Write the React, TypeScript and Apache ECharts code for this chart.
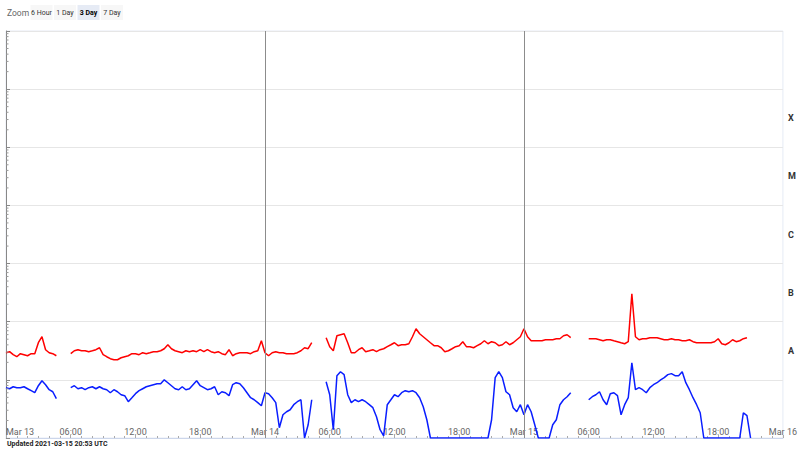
import React, { useEffect, useRef } from 'react';
import * as echarts from 'echarts';

// ---- Data (GOES X-ray flux, W/m²) ----
const START = Date.UTC(2021, 2, 13, 0, 0, 0);
const END = Date.UTC(2021, 2, 16, 0, 0, 0);
const STEP_MINUTES = 20;
const MONTHS = ['Jan', 'Feb', 'Mar', 'Apr', 'May', 'Jun', 'Jul', 'Aug', 'Sep', 'Oct', 'Nov', 'Dec'];
const CLASS_LABELS = ['', 'A', 'B', 'C', 'M', 'X', ''];
const ZOOM_BUTTONS = ['6 Hour', '1 Day', '3 Day', '7 Day'];
const SELECTED_BUTTON = '3 Day';
const DAY_LINES = [Date.UTC(2021, 2, 14), Date.UTC(2021, 2, 15)];
const MINOR_MULTIPLIERS = [2, 3, 4, 5, 6, 7, 8, 9];
const DECADE_EXPONENTS = [-9, -8, -7, -6, -5, -4, -3];
const UPDATED_TEXT = 'Updated 2021-03-15 20:53 UTC';

// 0.1-0.8 nm (long channel)
const LONG_FLUX: (number | null)[] = [
  2.93e-8, 3.05e-8, 2.71e-8, 2.50e-8, 2.82e-8, 2.71e-8, 2.60e-8, 2.82e-8, 2.82e-8, 4.35e-8,
  5.52e-8, 3.30e-8, 2.93e-8, 2.82e-8, 2.60e-8, null, null, null, 2.82e-8, 3.17e-8,
  3.30e-8, 3.17e-8, 3.17e-8, 3.05e-8, 3.17e-8, 3.30e-8, 3.57e-8, 2.71e-8, 2.50e-8, 2.31e-8,
  2.22e-8, 2.22e-8, 2.40e-8, 2.50e-8, 2.60e-8, 2.82e-8, 2.82e-8, 2.71e-8, 2.93e-8, 2.82e-8,
  2.93e-8, 3.05e-8, 3.05e-8, 3.17e-8, 3.43e-8, 4.02e-8, 3.43e-8, 3.17e-8, 3.05e-8, 2.93e-8,
  3.17e-8, 3.05e-8, 3.17e-8, 3.05e-8, 3.30e-8, 3.05e-8, 3.30e-8, 3.05e-8, 2.93e-8, 3.05e-8,
  2.82e-8, 2.71e-8, 3.30e-8, 2.60e-8, 2.82e-8, 2.93e-8, 2.93e-8, 2.93e-8, 2.82e-8, 3.05e-8,
  3.17e-8, 4.71e-8, 2.93e-8, 2.60e-8, 2.93e-8, 3.05e-8, 2.93e-8, 2.93e-8, 2.82e-8, 2.82e-8,
  2.82e-8, 2.93e-8, 3.17e-8, 3.57e-8, 3.43e-8, 4.35e-8, null, null, null, 5.31e-8,
  3.72e-8, 3.17e-8, 5.74e-8, 5.97e-8, 6.20e-8, 4.35e-8, 2.93e-8, 2.93e-8, 3.30e-8, 3.57e-8,
  3.05e-8, 3.17e-8, 3.30e-8, 3.05e-8, 3.30e-8, 3.43e-8, 3.72e-8, 4.02e-8, 4.35e-8, 3.87e-8,
  4.02e-8, 4.02e-8, 4.18e-8, 5.52e-8, 7.58e-8, 6.20e-8, 5.52e-8, 4.90e-8, 4.35e-8, 3.87e-8,
  3.87e-8, 3.57e-8, 3.05e-8, 3.17e-8, 3.43e-8, 3.72e-8, 3.87e-8, 4.53e-8, 3.72e-8, 3.72e-8,
  3.57e-8, 3.87e-8, 4.18e-8, 4.71e-8, 4.18e-8, 4.53e-8, 4.35e-8, 3.87e-8, 4.02e-8, 4.53e-8,
  4.02e-8, 4.35e-8, 4.90e-8, 5.52e-8, 7.58e-8, 5.52e-8, 4.71e-8, 4.71e-8, 4.71e-8, 4.71e-8,
  4.90e-8, 4.90e-8, 4.90e-8, 5.10e-8, 5.10e-8, 5.74e-8, 5.97e-8, 5.31e-8, null, null,
  null, null, 5.10e-8, 5.10e-8, 5.10e-8, 4.90e-8, 4.71e-8, 4.90e-8, 4.90e-8, 4.71e-8,
  4.53e-8, 4.35e-8, 4.18e-8, 4.53e-8, 3.03e-7, 5.52e-8, 4.90e-8, 5.10e-8, 5.10e-8, 5.31e-8,
  5.31e-8, 5.31e-8, 5.10e-8, 4.90e-8, 4.90e-8, 5.10e-8, 4.90e-8, 4.90e-8, 4.71e-8, 4.71e-8,
  4.90e-8, 4.53e-8, 4.35e-8, 4.35e-8, 4.35e-8, 4.35e-8, 4.35e-8, 4.53e-8, 5.10e-8, 4.18e-8,
  4.02e-8, 4.35e-8, 4.90e-8, 4.53e-8, 4.71e-8, 5.10e-8, 5.31e-8, null,
];

// 0.05-0.4 nm (short channel)
const SHORT_FLUX: (number | null)[] = [
  7.33e-9, 7.04e-9, 7.62e-9, 7.33e-9, 7.33e-9, 7.62e-9, 7.04e-9, 6.51e-9, 6.01e-9, 7.93e-9,
  9.66e-9, 8.25e-9, 6.77e-9, 6.25e-9, 4.74e-9, null, null, null, 7.33e-9, 7.93e-9,
  7.04e-9, 7.33e-9, 6.77e-9, 7.33e-9, 7.62e-9, 7.04e-9, 7.62e-9, 7.04e-9, 6.77e-9, 6.01e-9,
  6.77e-9, 6.25e-9, 5.55e-9, 5.34e-9, 4.21e-9, 4.93e-9, 5.78e-9, 6.51e-9, 7.04e-9, 7.62e-9,
  7.93e-9, 8.25e-9, 8.58e-9, 8.58e-9, 1.00e-8, 8.93e-9, 7.93e-9, 7.04e-9, 6.77e-9, 7.62e-9,
  6.77e-9, 7.04e-9, 8.25e-9, 9.66e-9, 7.93e-9, 7.33e-9, 6.77e-9, 7.04e-9, 7.62e-9, 5.55e-9,
  6.25e-9, 6.01e-9, 5.34e-9, 8.25e-9, 8.93e-9, 8.58e-9, 7.33e-9, 6.01e-9, 4.93e-9, 4.55e-9,
  4.05e-9, 3.59e-9, 6.01e-9, 5.78e-9, 4.93e-9, 4.05e-9, 1.50e-9, 2.51e-9, 2.83e-9, 3.06e-9,
  3.74e-9, 4.21e-9, 4.55e-9, 1.00e-9, 1.69e-9, 4.55e-9, null, null, null, 9.29e-9,
  5.55e-9, 1.39e-9, 1.18e-8, 1.38e-8, 1.23e-8, 5.55e-9, 4.05e-9, 4.55e-9, 4.21e-9, 4.55e-9,
  4.21e-9, 3.74e-9, 3.32e-9, 2.32e-9, 1.39e-9, 1.09e-9, 3.74e-9, 4.55e-9, 5.55e-9, 5.13e-9,
  6.01e-9, 6.51e-9, 6.25e-9, 6.51e-9, 6.01e-9, 4.93e-9, 3.45e-9, 2.06e-9, 1.00e-9, 1.00e-9,
  1.00e-9, 1.00e-9, 1.00e-9, 1.00e-9, 1.00e-9, 1.00e-9, 1.00e-9, 1.00e-9, 1.00e-9, 1.00e-9,
  1.00e-9, 1.00e-9, 1.00e-9, 1.00e-9, 1.00e-9, 2.06e-9, 1.09e-8, 1.38e-8, 1.09e-8, 6.25e-9,
  5.55e-9, 3.32e-9, 2.83e-9, 3.74e-9, 2.51e-9, 3.74e-9, 2.83e-9, 1.69e-9, 1.00e-9, 1.00e-9,
  1.00e-9, 1.00e-9, 1.69e-9, 2.06e-9, 3.74e-9, 4.55e-9, 5.13e-9, 6.01e-9, null, null,
  null, null, 4.55e-9, 5.13e-9, 5.55e-9, 6.25e-9, 4.55e-9, 3.74e-9, 5.78e-9, 6.01e-9,
  5.34e-9, 2.51e-9, 3.74e-9, 4.93e-9, 1.97e-8, 6.77e-9, 7.33e-9, 6.77e-9, 6.01e-9, 7.33e-9,
  8.25e-9, 8.93e-9, 1.00e-8, 1.09e-8, 1.23e-8, 1.28e-8, 1.18e-8, 1.18e-8, 1.38e-8, 8.93e-9,
  6.77e-9, 4.93e-9, 3.74e-9, 2.72e-9, 1.00e-9, 1.00e-9, 1.00e-9, 1.00e-9, 1.00e-9, 1.00e-9,
  1.00e-9, 1.00e-9, 1.00e-9, 1.00e-9, 1.00e-9, 2.72e-9, 2.42e-9, 1.00e-9,
];

const FONT = 'Roboto, "Liberation Sans", sans-serif';

function pad2(n: number) {
  return n < 10 ? '0' + n : '' + n;
}

function formatTime(v: number) {
  const d = new Date(v);
  const h = d.getUTCHours();
  if (h === 0) return MONTHS[d.getUTCMonth()] + ' ' + d.getUTCDate();
  return pad2(h) + ':' + pad2(d.getUTCMinutes());
}

export default function App() {
  const ref = useRef<HTMLDivElement>(null);

  useEffect(() => {
    if (!ref.current) return;
    const chart = echarts.init(ref.current, undefined, { renderer: 'svg' });

    const times = LONG_FLUX.map((_, i) => START + i * STEP_MINUTES * 60000);
    const toPairs = (arr: (number | null)[]) =>
      arr.map((v, i) => [times[i], v == null ? '-' : v]);

    const minorTicks: number[][] = [];
    DECADE_EXPONENTS.forEach((e) => {
      MINOR_MULTIPLIERS.forEach((m) => {
        minorTicks.push([START, m * Math.pow(10, e)]);
      });
    });

    // Zoom buttons
    const graphics: any[] = [
      {
        type: 'text',
        x: 7,
        y: 13,
        style: { text: 'Zoom', fontSize: 8.5, fill: '#666666', fontFamily: FONT, verticalAlign: 'middle', align: 'left' },
      },
    ];
    let bx = 30.5;
    const bw = 22;
    ZOOM_BUTTONS.forEach((label) => {
      const sel = label === SELECTED_BUTTON;
      graphics.push({
        type: 'rect',
        shape: { x: bx, y: 5, width: bw, height: 15 },
        style: { fill: sel ? '#e6ebf5' : '#f7f7f7' },
      });
      graphics.push({
        type: 'text',
        x: bx + bw / 2,
        y: 12.5,
        style: {
          text: label,
          fontSize: 7,
          fontWeight: sel ? 'bold' : 'normal',
          fill: sel ? '#000000' : '#333333',
          fontFamily: FONT,
          align: 'center',
          verticalAlign: 'middle',
        },
      });
      bx += bw + 1.5;
    });
    graphics.push({
      type: 'text',
      x: 7,
      y: 444,
      style: {
        text: UPDATED_TEXT,
        fontSize: 7,
        fontWeight: 'bold',
        fill: '#222222',
        fontFamily: FONT,
        align: 'left',
        verticalAlign: 'middle',
      },
    });

    const option: any = {
      animation: false,
      textStyle: { fontFamily: FONT },
      grid: {
        left: 6,
        right: 17,
        top: 31,
        bottom: 12,
        show: true,
        borderColor: '#e6ebf5',
        borderWidth: 1,
        backgroundColor: 'transparent',
      },
      xAxis: {
        type: 'value',
        min: START,
        max: END,
        interval: 6 * 3600000,
        axisLine: { show: true, lineStyle: { color: '#ccd6eb' } },
        axisTick: { show: true, inside: true, length: 3, lineStyle: { color: '#aaaaaa' } },
        minorTick: { show: true, splitNumber: 6, length: 2, lineStyle: { color: '#aaaaaa' } },
        splitLine: { show: false },
        axisLabel: {
          inside: true,
          margin: 2,
          fontSize: 9,
          color: '#666666',
          formatter: formatTime,
          alignMinLabel: 'left',
          showMinLabel: true,
          showMaxLabel: true,
        },
      },
      yAxis: [
        {
          type: 'log',
          logBase: 10,
          min: 1e-9,
          max: 1e-2,
          splitNumber: 7,
          position: 'left',
          axisLine: { show: true, onZero: false, lineStyle: { color: '#888888' } },
          axisTick: { show: true, inside: true, length: 4, lineStyle: { color: '#888888' } },
          axisLabel: { show: false },
          splitLine: { show: true, lineStyle: { color: '#e6e6e6' } },
        },
        {
          type: 'category',
          data: CLASS_LABELS,
          position: 'right',
          boundaryGap: true,
          axisLine: { show: false },
          axisTick: { show: false },
          splitLine: { show: false },
          axisLabel: { fontSize: 9, fontWeight: 'bold', color: '#333333', margin: 5 },
        },
      ],
      series: [
        {
          name: 'Long',
          type: 'line',
          yAxisIndex: 0,
          data: toPairs(LONG_FLUX),
          showSymbol: false,
          connectNulls: false,
          lineStyle: { color: '#ff0000', width: 1.5 },
          itemStyle: { color: '#ff0000' },
          z: 3,
          markLine: {
            silent: true,
            symbol: ['none', 'none'],
            label: { show: false },
            lineStyle: { color: '#8c8c8c', width: 1, type: 'solid' },
            data: DAY_LINES.map((t) => ({ xAxis: t })),
          },
        },
        {
          name: 'Short',
          type: 'line',
          yAxisIndex: 0,
          data: toPairs(SHORT_FLUX),
          showSymbol: false,
          connectNulls: false,
          lineStyle: { color: '#0a1eff', width: 1.5 },
          itemStyle: { color: '#0a1eff' },
          z: 3,
        },
        {
          name: 'minorTicks',
          type: 'custom',
          yAxisIndex: 0,
          silent: true,
          data: minorTicks,
          encode: { x: 0, y: 1 },
          z: 5,
          renderItem: (params: any, api: any) => {
            const p = api.coord([api.value(0), api.value(1)]);
            return {
              type: 'line',
              shape: { x1: p[0], y1: p[1], x2: p[0] + 2.5, y2: p[1] },
              style: { stroke: '#999999', lineWidth: 1 },
            };
          },
        },
      ],
      graphic: graphics,
    };

    chart.setOption(option);
    return () => chart.dispose();
  }, []);

  return (
    <div
      ref={ref}
      style={{ position: 'fixed', left: 0, top: 0, width: 800, height: 450, background: '#ffffff' }}
    />
  );
}
